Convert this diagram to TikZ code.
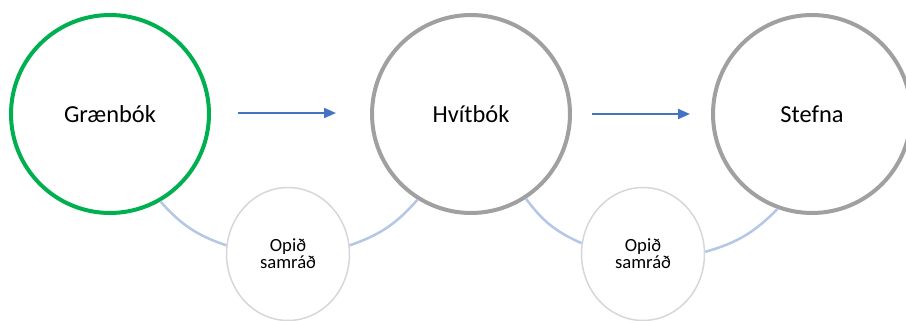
\documentclass[tikz,border=0pt]{standalone}
\usepackage{fontspec}
\setmainfont{Carlito}
\usetikzlibrary{arrows.meta,shapes.geometric}
\definecolor{cgreen}{RGB}{0,176,80}
\definecolor{cgray}{RGB}{160,160,160}
\definecolor{clight}{RGB}{215,215,215}
\definecolor{carrow}{RGB}{68,114,196}
\definecolor{clink}{RGB}{180,199,231}

\begin{document}
\begin{tikzpicture}[
        x=0.02cm, y={(0cm,-0.02cm)},
        big/.style={circle, draw, line width=0.08cm, fill=white, minimum size=3.96cm, font=\fontsize{13.9}{16}\selectfont},
        green/.style={big, draw=cgreen},
        gray/.style={big, draw=cgray},
        small/.style={ellipse, draw=clight, line width=0.03cm, fill=white, minimum width=2.46cm, minimum height=2.66cm,
                      align=center, font=\fontsize{10.6}{9.7}\selectfont},
        flow/.style={-{Triangle[length=0.24cm, width=0.2cm]}, line width=0.04cm, carrow},
        link/.style={line width=0.05cm, clink, bend right=15},
        ]
        \useasboundingbox (0,0) rectangle (906,321);
        \node(green)[green] at (110,114) {Grænbók};
        \node(white)[gray]  at (471,114) {Hvítbók};
        \node(policy)[gray] at (812,114) {Stefna};
        \node(open1)[small] at (288,254) {Opið\\samráð};
        \node(open2)[small] at (643,254) {Opið\\samráð};

        \coordinate(a1) at (238,113);
        \coordinate(b1) at (336,113);
        \coordinate(a2) at (592,114);
        \coordinate(b2) at (690,114);
        \draw[flow](a1)--(b1);
        \draw[flow](a2)--(b2);

        \draw[link](green.-60) to (open1.172);
        \draw[link](open1.8) to (white.238);
        \draw[link](white.-57) to (open2.170);
        \draw[link](open2.2) to (policy.250);
      \end{tikzpicture}
\end{document}
